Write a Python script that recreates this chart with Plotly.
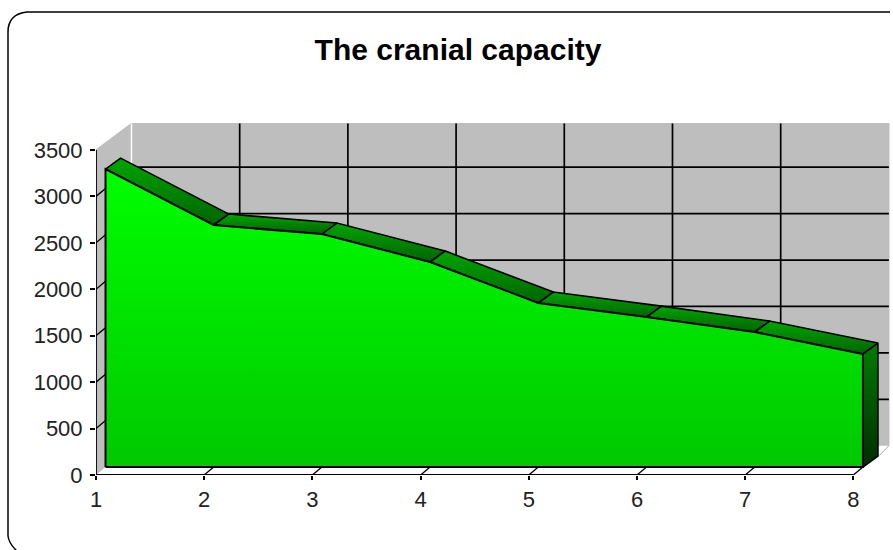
import plotly.graph_objects as go

# ---- data ----
categories = [1, 2, 3, 4, 5, 6, 7, 8]
capacity = [3209, 2606, 2509, 2208, 1766, 1615, 1454, 1217]
y_ticks = [0, 500, 1000, 1500, 2000, 2500, 3000, 3500]
title_text = "The cranial capacity"

# ---- pseudo-3D depth, in data units ----
FRONT_DX, FRONT_DY = 0.088, 86     # front of the area relative to the axes
AREA_DX, AREA_DY = 0.139, 118      # thickness of the area band
WALL_DX, WALL_DY = 0.328, 315      # back wall relative to the axes
WALL_TOP = 3785

W, H = 893, 550
ML, MR, MT, MB = 96, 0, 110, 75
PX_PER_X = 108.2
PX_PER_Y = 0.09286
xmax = 1 + (W - ML - MR) / PX_PER_X
ymax = (H - MT - MB) / PX_PER_Y

WALL = "#bebebe"
fig = go.Figure()


def poly(xs, ys, color, line="black", width=1.2, name=None, **kw):
    fig.add_trace(go.Scatter(x=xs, y=ys, mode="lines", fill="toself", fillcolor=color,
                             line=dict(color=line, width=width), name=name,
                             hoverinfo="skip", cliponaxis=False, **kw))


def grad(xs, ys, low, high, width, name):
    fig.add_trace(go.Scatter(
        x=xs + xs[:1], y=ys + ys[:1], mode="lines", fill="toself",
        line=dict(color="black", width=width),
        fillgradient=dict(type="vertical", colorscale=[[0, low], [1, high]]),
        hoverinfo="skip", cliponaxis=False, name=name))


def segs(pairs, color="black", width=1.5, name=None):
    xs, ys = [], []
    for (x0, y0, x1, y1) in pairs:
        xs += [x0, x1, None]
        ys += [y0, y1, None]
    fig.add_trace(go.Scatter(x=xs, y=ys, mode="lines", line=dict(color=color, width=width),
                             name=name, hoverinfo="skip", cliponaxis=False))


x0, xN = categories[0], categories[-1]
# walls
poly([x0, x0, x0 + WALL_DX, x0 + WALL_DX], [0, y_ticks[-1], WALL_TOP, WALL_DY], WALL, line=WALL, name="side wall")
poly([x0 + WALL_DX, x0 + WALL_DX, xN + WALL_DX, xN + WALL_DX], [WALL_DY, WALL_TOP, WALL_TOP, WALL_DY],
     WALL, line=WALL, name="back wall")
segs([(x0 + WALL_DX, WALL_DY, x0 + WALL_DX, WALL_TOP)], color="white", width=1.5, name="corner")

# gridlines on the back wall and on the side wall
grid = [(k + WALL_DX, WALL_DY, k + WALL_DX, WALL_TOP) for k in categories[1:-1]]
grid += [(x0 + WALL_DX, v + WALL_DY, xN + WALL_DX, v + WALL_DY) for v in y_ticks[1:-1]]
segs(grid, width=1.7, name="grid")
segs([(x0, v, x0 + FRONT_DX, v + FRONT_DY) for v in y_ticks[1:-1]], width=1.3, name="side ticks")
segs([(k, 0, k + FRONT_DX, FRONT_DY) for k in categories[1:]], width=1.3, name="floor ticks")
segs([(xN + 0.24, 210, xN + WALL_DX, WALL_DY)], color="#aaaaaa", width=1, name="floor edge")

# axis lines
segs([(x0, 0, x0, y_ticks[-1]), (x0, 0, xN, 0)], width=1.8, name="axes")

# top band of the area
fx = [c + FRONT_DX for c in categories]
base = FRONT_DY
ftop = [v + base for v in capacity]
for i in range(len(categories) - 1):
    grad([fx[i], fx[i + 1], fx[i + 1] + AREA_DX, fx[i] + AREA_DX],
         [ftop[i], ftop[i + 1], ftop[i + 1] + AREA_DY, ftop[i] + AREA_DY],
         "rgb(0,100,0)", "rgb(0,165,0)", 1.6, f"band {i + 1}")

# front face
grad([fx[0]] + fx + [fx[-1]], [base] + ftop + [base], "rgb(0,200,0)", "rgb(0,255,0)", 2, "Cranial capacity")

# right end face
grad([fx[-1], fx[-1], fx[-1] + AREA_DX, fx[-1] + AREA_DX],
     [base, ftop[-1], ftop[-1] + AREA_DY, base + AREA_DY], "rgb(0,45,0)", "rgb(0,125,0)", 1.6, "end face")


def px(x):
    return (x - ML) / (W - ML - MR)


def py(y):
    return 1 - (y - MT) / (H - MT - MB)


# rounded chart border, running off the canvas at the right and the bottom
border = (f"M {px(890)} {py(12)} L {px(27)} {py(12)} Q {px(8)} {py(14)} {px(8)} {py(32)} "
          f"L {px(8)} {py(536)} Q {px(9)} {py(544)} {px(18)} {py(552)}")
fig.add_shape(type="path", path=border, xref="paper", yref="paper",
              line=dict(color="black", width=1.5), layer="above")

font = dict(family="Liberation Sans, Arial, sans-serif", color="#222222", size=22)
fig.update_layout(
    width=W, height=H, margin=dict(l=ML, r=MR, t=MT, b=MB, autoexpand=False),
    paper_bgcolor="white", plot_bgcolor="white", showlegend=False,
    title=dict(text=f"<b>{title_text}</b>", x=458 / W, y=1 - 49 / H, xref="container", yref="container",
               xanchor="center", yanchor="middle",
               font=dict(family="Liberation Sans, Arial, sans-serif", color="black", size=30)),
    xaxis=dict(range=[1, xmax], tickmode="array", tickvals=categories, ticks="outside", ticklen=4,
               tickcolor="black", tickwidth=1.5, showgrid=False, zeroline=False, showline=False,
               tickfont=font, ticklabelstandoff=1),
    yaxis=dict(range=[0, ymax], tickmode="array", tickvals=y_ticks, ticks="outside", ticklen=5,
               tickcolor="black", tickwidth=1.5, showgrid=False, zeroline=False, showline=False,
               tickfont=font, ticklabelstandoff=3),
)
fig.write_html("out.html", config={"displayModeBar": False},
               post_script="document.body.style.margin='0';document.documentElement.style.overflow='hidden';")
